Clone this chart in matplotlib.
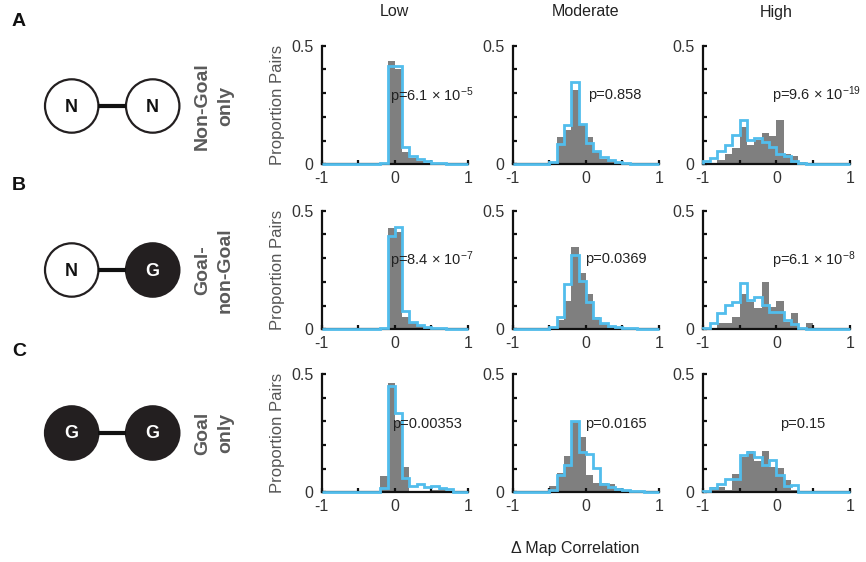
import numpy as np
import matplotlib
matplotlib.use("Agg")
import matplotlib.pyplot as plt
from matplotlib.patches import Circle

plt.rcParams['font.family'] = ['Liberation Sans', 'DejaVu Sans']
plt.rcParams['mathtext.default'] = 'regular'

W, H = 866, 562
DPI = 100

# bin edges: 20 bins of width 0.1 over [-1, 1]
edges = np.linspace(-1, 1, 21)

row_names = ["Non-Goal\nonly", "Goal-\nnon-Goal", "Goal\nonly"]
col_names = ["Low", "Moderate", "High"]
panel_letters = ["A", "B", "C"]
node_types = [("N", "N"), ("N", "G"), ("G", "G")]

# grey: reference distribution, blue: test distribution (proportion of pairs per bin)
gray_A_low = [0, 0, 0, 0, 0, 0, 0, 0, 0.004, 0.435, 0.40, 0.05, 0.025, 0.013, 0.007, 0.004, 0.002, 0.001, 0, 0]
blue_A_low = [0.001, 0.001, 0.001, 0.001, 0.001, 0.001, 0.001, 0.001, 0.006, 0.415, 0.415, 0.072, 0.035, 0.021, 0.012, 0.006, 0.004, 0.002, 0.001, 0.001]
gray_A_mod = [0, 0, 0, 0, 0, 0.005, 0.117, 0.145, 0.313, 0.165, 0.117, 0.052, 0.022, 0.012, 0.008, 0.004, 0.002, 0.001, 0, 0]
blue_A_mod = [0.001, 0.001, 0.001, 0.001, 0.001, 0.010, 0.086, 0.166, 0.345, 0.168, 0.088, 0.057, 0.031, 0.019, 0.011, 0.006, 0.003, 0.002, 0.001, 0.001]
gray_A_high = [0, 0.004, 0.020, 0.044, 0.067, 0.156, 0.081, 0.103, 0.130, 0.120, 0.187, 0.044, 0.035, 0.011, 0.004, 0, 0, 0, 0, 0]
blue_A_high = [0.014, 0.028, 0.056, 0.081, 0.124, 0.187, 0.103, 0.110, 0.096, 0.074, 0.044, 0.035, 0.015, 0.007, 0.002, 0.001, 0.001, 0.001, 0.001, 0.001]

gray_B_low = [0, 0, 0, 0, 0, 0, 0, 0, 0.004, 0.425, 0.41, 0.053, 0.025, 0.015, 0.008, 0.005, 0.003, 0.002, 0, 0]
blue_B_low = [0.001, 0.001, 0.001, 0.001, 0.001, 0.001, 0.001, 0.001, 0.006, 0.395, 0.433, 0.077, 0.032, 0.018, 0.010, 0.007, 0.004, 0.002, 0.001, 0.001]
gray_B_mod = [0, 0, 0, 0, 0, 0.005, 0.040, 0.120, 0.348, 0.239, 0.147, 0.050, 0.021, 0.012, 0.008, 0.004, 0.002, 0.001, 0, 0]
blue_B_mod = [0.001, 0.001, 0.001, 0.001, 0.001, 0.011, 0.050, 0.190, 0.313, 0.204, 0.117, 0.046, 0.028, 0.015, 0.010, 0.007, 0.004, 0.002, 0.001, 0.001]
gray_B_high = [0, 0.003, 0.025, 0.025, 0.053, 0.147, 0.117, 0.088, 0.200, 0.095, 0.120, 0.032, 0.067, 0.007, 0.028, 0, 0, 0, 0, 0]
blue_B_high = [0.007, 0.025, 0.067, 0.103, 0.114, 0.194, 0.124, 0.138, 0.103, 0.074, 0.074, 0.039, 0.021, 0.007, 0.002, 0.001, 0.001, 0.001, 0.001, 0.001]

gray_C_low = [0, 0, 0, 0, 0, 0, 0, 0, 0.070, 0.463, 0.300, 0.108, 0.006, 0.005, 0.006, 0.010, 0.020, 0.004, 0, 0]
blue_C_low = [0.001, 0.001, 0.001, 0.001, 0.001, 0.001, 0.001, 0.001, 0.017, 0.449, 0.337, 0.059, 0.027, 0.035, 0.021, 0.027, 0.017, 0.013, 0.003, 0.001]
gray_C_mod = [0, 0, 0, 0, 0, 0.027, 0.080, 0.154, 0.303, 0.235, 0.073, 0.041, 0.041, 0.035, 0.017, 0.010, 0.005, 0.003, 0, 0]
blue_C_mod = [0.001, 0.001, 0.001, 0.001, 0.001, 0.010, 0.073, 0.115, 0.300, 0.172, 0.162, 0.101, 0.035, 0.021, 0.013, 0.010, 0.007, 0.004, 0.002, 0.001]
gray_C_high = [0, 0.024, 0.024, 0.010, 0.076, 0.150, 0.176, 0.134, 0.176, 0.108, 0.101, 0.052, 0.010, 0, 0, 0, 0, 0, 0, 0]
blue_C_high = [0.006, 0.017, 0.035, 0.056, 0.056, 0.158, 0.172, 0.148, 0.115, 0.137, 0.073, 0.027, 0.031, 0.003, 0.001, 0.001, 0.001, 0.001, 0.001, 0.001]

gray_vals = [[gray_A_low, gray_A_mod, gray_A_high],
             [gray_B_low, gray_B_mod, gray_B_high],
             [gray_C_low, gray_C_mod, gray_C_high]]
blue_vals = [[blue_A_low, blue_A_mod, blue_A_high],
             [blue_B_low, blue_B_mod, blue_B_high],
             [blue_C_low, blue_C_mod, blue_C_high]]

p_labels = [["p=6.1 × 10$^{-5}$", "p=0.858", "p=9.6 × 10$^{-19}$"],
            ["p=8.4 × 10$^{-7}$", "p=0.0369", "p=6.1 × 10$^{-8}$"],
            ["p=0.00353", "p=0.0165", "p=0.15"]]
p_pos = [[(-0.068, 0.285), (0.03, 0.292), (-0.054, 0.29)],
         [(-0.068, 0.292), (-0.014, 0.296), (-0.054, 0.292)],
         [(-0.045, 0.29), (-0.014, 0.29), (0.05, 0.29)]]

GRAY = '#7f7f7f'
BLUE = '#52bdec'
TXT = '#333333'

fig = plt.figure(figsize=(W / DPI, H / DPI), dpi=DPI)

col_x = [(321.7, 468.0), (512.7, 659.0), (702.7, 850.0)]
row_y = [(45.7, 164.3), (210.7, 329.3), (374.0, 492.3)]


def px_axes(x0, x1, y0, y1):
    return fig.add_axes([x0 / W, 1 - y1 / H, (x1 - x0) / W, (y1 - y0) / H])


for r in range(3):
    for c in range(3):
        x0, x1 = col_x[c]
        ax = px_axes(x0, x1, row_y[r][0], row_y[r][1])
        g = np.asarray(gray_vals[r][c])
        b = np.asarray(blue_vals[r][c])
        ax.bar(edges[:-1], g, width=np.diff(edges), align='edge',
               color=GRAY, linewidth=0, zorder=1)
        ax.stairs(b, edges, color=BLUE, linewidth=2.0, zorder=3, clip_on=False)
        ax.set_xlim(-1, 1)
        ax.set_ylim(0, 0.5)
        for s in ('top', 'right'):
            ax.spines[s].set_visible(False)
        for s in ('left', 'bottom'):
            ax.spines[s].set_linewidth(1.6)
            ax.spines[s].set_color('#111111')
        ax.set_xticks([-1, 0, 1])
        ax.set_xticklabels(['-1', '0', '1'])
        ax.set_xticks([-0.5, 0.5], minor=True)
        ax.set_yticks([0, 0.5])
        ax.set_yticklabels(['0', '0.5'])
        ax.set_yticks([0.1, 0.2, 0.3, 0.4], minor=True)
        ax.tick_params(which='both', direction='in', length=3, width=1.6,
                       color='#111111', labelsize=11.5, labelcolor=TXT)
        ax.tick_params(axis='x', pad=5)
        ax.tick_params(axis='y', pad=6)
        ax.patch.set_alpha(0)
        px, py = p_pos[r][c]
        ax.text(px, py, p_labels[r][c], fontsize=10.5, color='#222222',
                ha='left', va='center', zorder=4)
        if c == 0:
            ax.set_ylabel('Proportion Pairs', fontsize=12, color='#555555')
            ax.yaxis.set_label_coords((285 - x0) / (x1 - x0), 0.5)
        if r == 0:
            fig.text((x0 + x1) / 2 / W, 1 - 12 / H, col_names[c],
                     fontsize=11.5, color='#222222', ha='center', va='center')

fig.text(575 / W, 1 - 548 / H, 'Δ Map Correlation', fontsize=11.5,
         color='#222222', ha='center', va='center')

# schematic of cell pairs on the left
sax = fig.add_axes([0, 0, 1, 1])
sax.set_xlim(0, W)
sax.set_ylim(H, 0)
sax.axis('off')
sax.patch.set_alpha(0)

letter_y = [21, 186, 352]
node_y = [106, 270, 433]
node_x = [71.7, 152.7]
R = 26.7
for r in range(3):
    sax.text(19, letter_y[r], panel_letters[r], fontsize=14, fontweight='bold',
             color='#111111', ha='center', va='center')
    y = node_y[r]
    sax.plot([node_x[0] + R, node_x[1] - R], [y, y], color='#111111',
             linewidth=3.0, solid_capstyle='butt')
    for k in range(2):
        t = node_types[r][k]
        filled = t == 'G'
        sax.add_patch(Circle((node_x[k], y), R,
                             facecolor='#231f20' if filled else 'white',
                             edgecolor='#231f20', linewidth=1.6))
        sax.text(node_x[k], y + 1, t, fontsize=13, fontweight='bold',
                 color='white' if filled else '#111111',
                 ha='center', va='center')
    sax.text(214, y, row_names[r], rotation=90, fontsize=14, fontweight='bold',
             color='#5a5a5a', ha='center', va='center', multialignment='center',
             linespacing=1.45)

fig.savefig('out.png', dpi=DPI)
